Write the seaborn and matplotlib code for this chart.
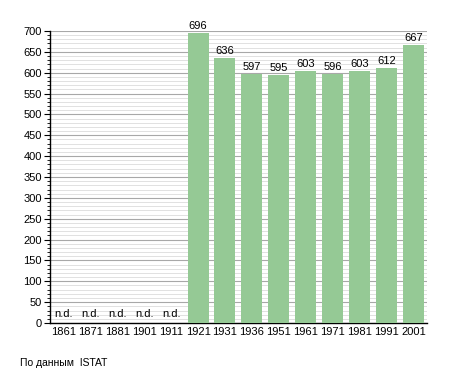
import numpy as np
import pandas as pd
import matplotlib
matplotlib.use("Agg")
import matplotlib.pyplot as plt
import seaborn as sns
from matplotlib.ticker import MultipleLocator

# census years and population (None = no data, "n.d.")
YEARS = ["1861", "1871", "1881", "1901", "1911", "1921", "1931",
         "1936", "1951", "1961", "1971", "1981", "1991", "2001"]
POPULATION = [None, None, None, None, None, 696, 636,
              597, 595, 603, 596, 603, 612, 667]
SOURCE = "По данным  ISTAT"
BAR_COLOR = "#95c995"

sns.set_style("white")
plt.rcParams["font.family"] = ["Liberation Sans", "DejaVu Sans"]
plt.rcParams["text.color"] = "black"
plt.rcParams["xtick.color"] = "black"
plt.rcParams["ytick.color"] = "black"

df = pd.DataFrame({"year": YEARS, "pop": np.array(POPULATION, dtype=float)})

fig = plt.figure(figsize=(4.55, 3.73), dpi=100)
ax = fig.add_axes([0.110, 0.134, 0.828, 0.783])

sns.barplot(data=df.dropna(), x="year", y="pop", order=YEARS,
            color=BAR_COLOR, saturation=1, width=0.78, linewidth=0,
            ax=ax, zorder=3)

ax.set_xlim(-0.5, len(YEARS) - 0.5)
ax.set_ylim(0, 700)
ax.yaxis.set_major_locator(MultipleLocator(50))
ax.yaxis.set_minor_locator(MultipleLocator(10))
ax.grid(which="major", axis="y", color="#a8a8a8", linewidth=0.8, zorder=1)
ax.grid(which="minor", axis="y", color="#dcdcdc", linewidth=0.6, zorder=0)
ax.set_axisbelow(True)

for s in ["top", "right"]:
    ax.spines[s].set_visible(False)
for s in ["left", "bottom"]:
    ax.spines[s].set_color("black")
    ax.spines[s].set_linewidth(1.0)

ax.tick_params(axis="y", which="major", direction="out", length=4, width=0.8,
               labelsize=8, pad=2, left=True)
ax.tick_params(axis="y", which="minor", direction="out", length=2, width=0.6, left=True)
ax.tick_params(axis="x", length=0, labelsize=8, pad=3)
ax.set_xlabel("")
ax.set_ylabel("")

for i, v in enumerate(df["pop"]):
    if np.isnan(v):
        ax.text(i, 10, "n.d.", ha="center", va="bottom", fontsize=8, zorder=4)
    else:
        ax.text(i, v + 5, f"{int(v)}", ha="center", va="bottom", fontsize=8, zorder=4)

fig.text(20 / 455, 1 - 363 / 373, SOURCE, ha="left", va="center", fontsize=7.5)

fig.savefig("out.png", dpi=100)
